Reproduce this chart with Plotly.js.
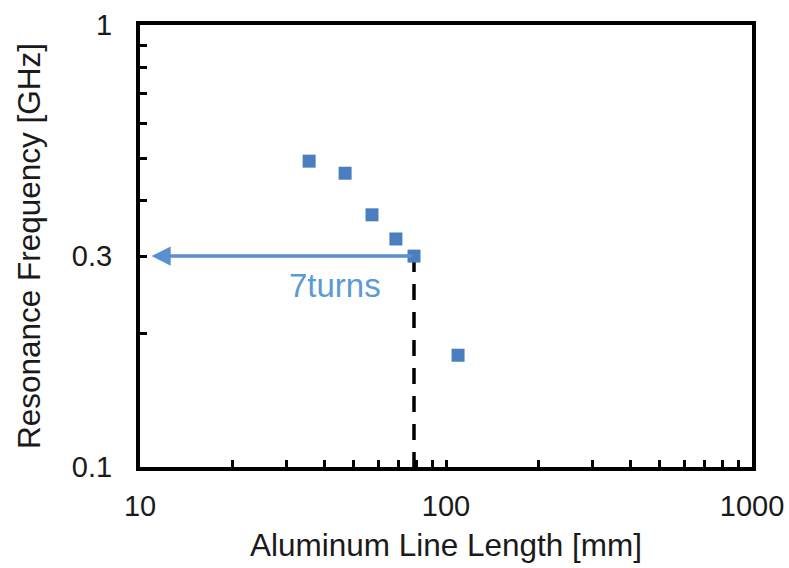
<!DOCTYPE html>
<html>
<head>
<meta charset="utf-8">
<script src="https://cdn.plot.ly/plotly-3.0.1.min.js"></script>
<style>html,body{margin:0;padding:0;background:#fff;}#chart{width:789px;height:568px;}</style>
</head>
<body>
<div id="chart"></div>
<script>
// Data
const lineLength = [35.7, 46.8, 57.3, 68.6, 78.6, 109.5];   // mm
const resonanceFreq = [0.492, 0.462, 0.372, 0.328, 0.300, 0.179]; // GHz
const markerIndex = 4; // the "7turns" point
const arrowEndX = 10.9;
const xTickVals = [10,20,30,40,50,60,70,80,90,100,200,300,400,500,600,700,800,900,1000];
const xTickText = ["10","","","","","","","","","100","","","","","","","","","1000"];
const yTickVals = [0.1,0.2,0.3,0.4,0.5,0.6,0.7,0.8,0.9,1];
const yTickText = ["0.1","","0.3","","","","","","","1"];

const mx = lineLength[markerIndex], my = resonanceFreq[markerIndex];
const yMin = yTickVals[0];

const traces = [
  {
    x: [mx, mx], y: [my, yMin], mode: 'lines',
    line: {color: '#000', width: 3.5, dash: '16px,12px'},
    hoverinfo: 'skip', showlegend: false
  },
  {
    x: lineLength, y: resonanceFreq, mode: 'markers', type: 'scatter',
    marker: {symbol: 'square', size: 13, color: '#4a7ebf'},
    showlegend: false
  }
];

const fam = '"Liberation Sans", Arial, sans-serif';
const tickFont = {family: fam, size: 29, color: '#1a1a1a'};
const titleFont = {family: fam, size: 31.5, color: '#1a1a1a'};

const layout = {
  width: 789, height: 568,
  margin: {l: 140, r: 37, t: 25, b: 101},
  paper_bgcolor: '#fff', plot_bgcolor: '#fff',
  font: tickFont,
  xaxis: {
    type: 'log', range: [1, 3],
    tickvals: xTickVals, ticktext: xTickText,
    ticks: 'inside', ticklen: 7, tickwidth: 3, tickcolor: '#000',
    showline: true, linecolor: '#000', linewidth: 4, mirror: true,
    showgrid: false, zeroline: false,
    ticklabelstandoff: 10,
    title: {text: 'Aluminum Line Length [mm]', font: titleFont, standoff: 14},
    tickfont: tickFont
  },
  yaxis: {
    type: 'log', range: [-1, 0],
    tickvals: yTickVals, ticktext: yTickText,
    ticks: 'inside', ticklen: 7, tickwidth: 3, tickcolor: '#000',
    showline: true, linecolor: '#000', linewidth: 4, mirror: true,
    showgrid: false, zeroline: false,
    ticklabelstandoff: 18,
    title: {text: 'Resonance Frequency [GHz]', font: titleFont, standoff: 23},
    tickfont: tickFont
  },
  annotations: [
    {
      x: Math.log10(arrowEndX), y: Math.log10(my), xref: 'x', yref: 'y',
      ax: Math.log10(mx), ay: Math.log10(my), axref: 'x', ayref: 'y',
      showarrow: true, arrowhead: 2, arrowsize: 1.1, arrowwidth: 3.5,
      arrowcolor: '#5b8fd2', text: ''
    },
    {
      x: Math.log10(43.5), y: Math.log10(0.258), xref: 'x', yref: 'y',
      text: '7turns', showarrow: false,
      font: {family: fam, size: 33, color: '#5b9bd5'}
    }
  ]
};

Plotly.newPlot('chart', traces, layout, {displayModeBar: false, staticPlot: true});
</script>
</body>
</html>
